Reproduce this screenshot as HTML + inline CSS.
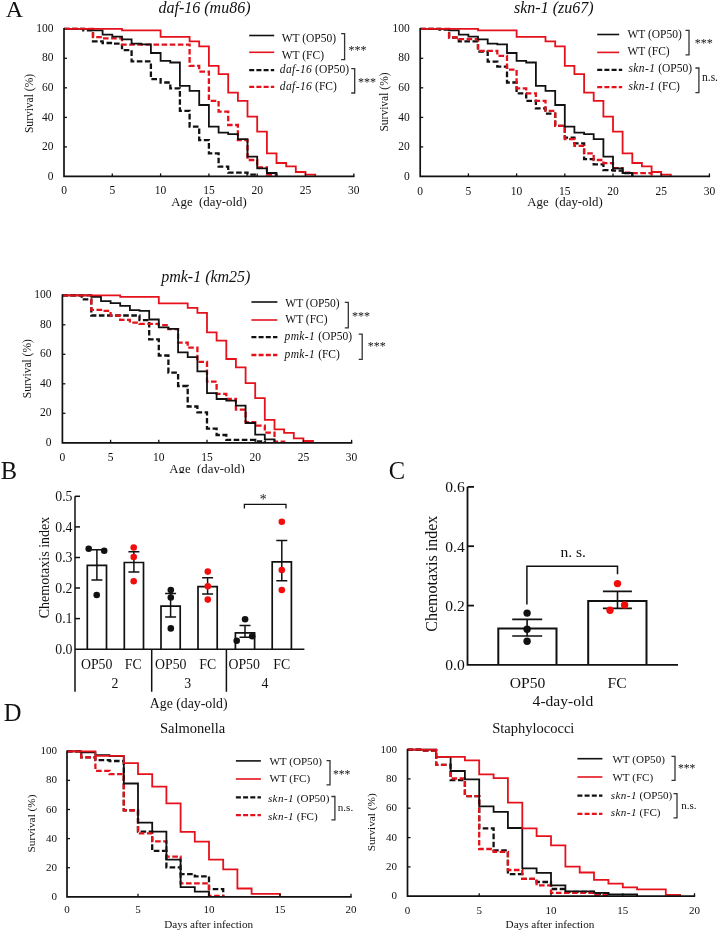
<!DOCTYPE html>
<html><head><meta charset="utf-8"><style>
html,body{margin:0;padding:0;background:#fff;overflow:hidden;}
svg{display:block;will-change:transform;}
text{font-family:"Liberation Serif",serif;fill:#111;}
</style></head><body>
<svg width="720" height="932" viewBox="0 0 720 932">
<text x="5.7" y="16.7" font-size="24" text-anchor="start" >A</text>
<path d="M64.0 28.8H83.3V30.3H93.0V41.3H102.6V43.0H112.3V43.6H122.0V50.1H131.6V61.3H150.9V79.1H160.6V82.5H170.3V88.3H179.9V110.9H189.6V126.7H199.2V140.1H208.9V153.4H218.6V166.7H228.2V172.6H247.5V174.6H257.2V176.4" fill="none" stroke="#111111" stroke-width="2.3" stroke-dasharray="5.6 2.5" stroke-linejoin="miter" stroke-linecap="butt"/>
<path d="M64.0 28.8H93.0V37.1H102.6V38.4H122.0V44.6H189.6V65.8H199.2V71.6H208.9V100.8H218.6V111.6H228.2V125.0H237.9V140.1H247.5V160.0H257.2V167.5H266.9V174.6H276.5V176.4" fill="none" stroke="#e5121c" stroke-width="2.3" stroke-dasharray="5.6 2.5" stroke-linejoin="miter" stroke-linecap="butt"/>
<path d="M64.0 28.8H93.0V30.3H102.6V34.7H112.3V36.6H122.0V39.4H131.6V43.6H141.3V44.3H150.9V53.0H160.6V60.8H170.3V62.5H179.9V85.9H189.6V90.8H199.2V105.0H208.9V126.7H218.6V132.6H228.2V134.2H237.9V139.2H247.5V156.6H257.2V168.3H266.9V173.0H276.5V176.4" fill="none" stroke="#111111" stroke-width="1.8" stroke-linejoin="miter" stroke-linecap="butt"/>
<path d="M64.0 28.8H122.0V30.3H160.6V36.9H189.6V41.3H199.2V46.4H208.9V65.8H218.6V74.1H228.2V92.6H237.9V100.8H247.5V116.6H257.2V131.7H266.9V153.4H276.5V163.0H286.2V166.4H295.8V172.0H305.5V174.6H315.2V176.4" fill="none" stroke="#e5121c" stroke-width="1.8" stroke-linejoin="miter" stroke-linecap="butt"/>
<path d="M64.0 28.1V176.4H354.5" fill="none" stroke="#111111" stroke-width="1.7" />
<text x="53.5" y="179.5" font-size="11.5" text-anchor="end" >0</text>
<path d="M64.0 146.9h3" fill="none" stroke="#111111" stroke-width="1.3" />
<text x="53.5" y="150.0" font-size="11.5" text-anchor="end" >20</text>
<path d="M64.0 117.4h3" fill="none" stroke="#111111" stroke-width="1.3" />
<text x="53.5" y="120.5" font-size="11.5" text-anchor="end" >40</text>
<path d="M64.0 87.8h3" fill="none" stroke="#111111" stroke-width="1.3" />
<text x="53.5" y="90.9" font-size="11.5" text-anchor="end" >60</text>
<path d="M64.0 58.3h3" fill="none" stroke="#111111" stroke-width="1.3" />
<text x="53.5" y="61.4" font-size="11.5" text-anchor="end" >80</text>
<text x="53.5" y="31.9" font-size="11.5" text-anchor="end" >100</text>
<text x="64.0" y="194.3" font-size="11.5" text-anchor="middle" >0</text>
<path d="M112.3 176.4v-3" fill="none" stroke="#111111" stroke-width="1.3" />
<text x="112.3" y="194.3" font-size="11.5" text-anchor="middle" >5</text>
<path d="M160.6 176.4v-3" fill="none" stroke="#111111" stroke-width="1.3" />
<text x="160.6" y="194.3" font-size="11.5" text-anchor="middle" >10</text>
<path d="M208.9 176.4v-3" fill="none" stroke="#111111" stroke-width="1.3" />
<text x="208.9" y="194.3" font-size="11.5" text-anchor="middle" >15</text>
<path d="M257.2 176.4v-3" fill="none" stroke="#111111" stroke-width="1.3" />
<text x="257.2" y="194.3" font-size="11.5" text-anchor="middle" >20</text>
<path d="M305.5 176.4v-3" fill="none" stroke="#111111" stroke-width="1.3" />
<text x="305.5" y="194.3" font-size="11.5" text-anchor="middle" >25</text>
<path d="M353.8 176.4v-3" fill="none" stroke="#111111" stroke-width="1.3" />
<text x="353.8" y="194.3" font-size="11.5" text-anchor="middle" >30</text>
<text x="204.5" y="13.0" font-size="16" text-anchor="middle" font-style="italic" >daf-16 (mu86)</text>
<text x="0.0" y="0.0" font-size="11.5" text-anchor="middle" transform="translate(32.5 103.5) rotate(-90)">Survival (%)</text>
<text x="209.0" y="206.4" font-size="12.8" text-anchor="middle" >Age&#160; (day-old)</text>
<path d="M249.2 35.5h25" fill="none" stroke="#111111" stroke-width="1.6" />
<text x="281.7" y="42.1" font-size="11.5" text-anchor="start" >WT (OP50)</text>
<path d="M249.2 52.3h25" fill="none" stroke="#e5121c" stroke-width="1.6" />
<text x="281.7" y="58.7" font-size="11.5" text-anchor="start" >WT (FC)</text>
<path d="M249.2 70.1h25" fill="none" stroke="#111111" stroke-width="2.3" stroke-dasharray="5 2.2" />
<text x="279.8" y="73.3" font-size="11.5" text-anchor="start" ><tspan font-style="italic" letter-spacing="0.4">daf-16</tspan> (OP50)</text>
<path d="M249.2 86.8h25" fill="none" stroke="#e5121c" stroke-width="2.3" stroke-dasharray="5 2.2" />
<text x="279.8" y="90.2" font-size="11.5" text-anchor="start" ><tspan font-style="italic" letter-spacing="0.4">daf-16</tspan> (FC)</text>
<path d="M341.1 33.7H344.6V59.6H341.1" fill="none" stroke="#333" stroke-width="1.3" />
<text x="348.5" y="53.7" font-size="12.075000000000001" text-anchor="start" fill="#2a2a2a" >***</text>
<path d="M351.2 68.7H354.7V93.0H351.2" fill="none" stroke="#333" stroke-width="1.3" />
<text x="358.0" y="85.9" font-size="12.075000000000001" text-anchor="start" fill="#2a2a2a" >***</text>
<path d="M420.2 28.8H439.5V29.7H449.1V37.5H458.8V41.3H478.0V51.7H487.7V61.7H497.3V66.7H507.0V82.5H516.6V93.3H526.2V100.8H535.9V108.4H545.5V113.7H555.2V125.8H564.8V137.6H574.4V143.3H584.1V159.1H593.7V164.4H603.4V170.1H613.0V170.6H622.6V173.2H632.3V176.4" fill="none" stroke="#111111" stroke-width="2.3" stroke-dasharray="5.6 2.5" stroke-linejoin="miter" stroke-linecap="butt"/>
<path d="M420.2 28.8H449.1V37.5H458.8V39.1H478.0V50.8H497.3V55.8H507.0V69.7H516.6V88.3H526.2V93.3H535.9V100.8H545.5V110.9H555.2V125.8H564.8V139.2H574.4V145.8H584.1V153.4H593.7V160.0H603.4V163.1H613.0V168.1H622.6V172.6H632.3V173.2H651.6V176.4" fill="none" stroke="#e5121c" stroke-width="2.3" stroke-dasharray="5.6 2.5" stroke-linejoin="miter" stroke-linecap="butt"/>
<path d="M420.2 28.8H449.1V30.3H458.8V34.7H468.4V36.6H478.0V39.4H487.7V43.6H497.3V44.3H507.0V53.0H516.6V60.8H526.2V62.5H535.9V85.9H545.5V90.8H555.2V105.0H564.8V126.7H574.4V132.6H584.1V134.2H593.7V139.2H603.4V156.6H613.0V168.3H622.6V173.0H632.3V176.4" fill="none" stroke="#111111" stroke-width="1.8" stroke-linejoin="miter" stroke-linecap="butt"/>
<path d="M420.2 28.8H478.0V30.3H516.6V36.9H545.5V41.3H555.2V46.4H564.8V65.8H574.4V74.1H584.1V92.6H593.7V100.8H603.4V116.6H613.0V131.7H622.6V153.4H632.3V163.0H641.9V166.4H651.6V172.0H661.2V174.6H670.8V176.4" fill="none" stroke="#e5121c" stroke-width="1.8" stroke-linejoin="miter" stroke-linecap="butt"/>
<path d="M420.2 28.1V176.4H710.1" fill="none" stroke="#111111" stroke-width="1.7" />
<text x="409.7" y="179.5" font-size="11.5" text-anchor="end" >0</text>
<path d="M420.2 146.9h3" fill="none" stroke="#111111" stroke-width="1.3" />
<text x="409.7" y="150.0" font-size="11.5" text-anchor="end" >20</text>
<path d="M420.2 117.4h3" fill="none" stroke="#111111" stroke-width="1.3" />
<text x="409.7" y="120.5" font-size="11.5" text-anchor="end" >40</text>
<path d="M420.2 87.8h3" fill="none" stroke="#111111" stroke-width="1.3" />
<text x="409.7" y="90.9" font-size="11.5" text-anchor="end" >60</text>
<path d="M420.2 58.3h3" fill="none" stroke="#111111" stroke-width="1.3" />
<text x="409.7" y="61.4" font-size="11.5" text-anchor="end" >80</text>
<text x="409.7" y="31.9" font-size="11.5" text-anchor="end" >100</text>
<text x="420.2" y="194.9" font-size="11.5" text-anchor="middle" >0</text>
<path d="M468.4 176.4v-3" fill="none" stroke="#111111" stroke-width="1.3" />
<text x="468.4" y="194.9" font-size="11.5" text-anchor="middle" >5</text>
<path d="M516.6 176.4v-3" fill="none" stroke="#111111" stroke-width="1.3" />
<text x="516.6" y="194.9" font-size="11.5" text-anchor="middle" >10</text>
<path d="M564.8 176.4v-3" fill="none" stroke="#111111" stroke-width="1.3" />
<text x="564.8" y="194.9" font-size="11.5" text-anchor="middle" >15</text>
<path d="M613.0 176.4v-3" fill="none" stroke="#111111" stroke-width="1.3" />
<text x="613.0" y="194.9" font-size="11.5" text-anchor="middle" >20</text>
<path d="M661.2 176.4v-3" fill="none" stroke="#111111" stroke-width="1.3" />
<text x="661.2" y="194.9" font-size="11.5" text-anchor="middle" >25</text>
<path d="M709.4 176.4v-3" fill="none" stroke="#111111" stroke-width="1.3" />
<text x="709.4" y="194.9" font-size="11.5" text-anchor="middle" >30</text>
<text x="553.8" y="13.0" font-size="16" text-anchor="middle" font-style="italic" >skn-1 (zu67)</text>
<text x="0.0" y="0.0" font-size="11.5" text-anchor="middle" transform="translate(387.5 102) rotate(-90)">Survival (%)</text>
<text x="565.0" y="206.4" font-size="12.8" text-anchor="middle" >Age&#160; (day-old)</text>
<path d="M597.2 34.5h22" fill="none" stroke="#111111" stroke-width="1.6" />
<text x="627.4" y="37.8" font-size="11.5" text-anchor="start" >WT (OP50)</text>
<path d="M597.2 52.4h22" fill="none" stroke="#e5121c" stroke-width="1.6" />
<text x="627.4" y="55.1" font-size="11.5" text-anchor="start" >WT (FC)</text>
<path d="M597.2 69.9h25" fill="none" stroke="#111111" stroke-width="2.3" stroke-dasharray="5 2.2" />
<text x="628.4" y="72.1" font-size="11.5" text-anchor="start" ><tspan font-style="italic" letter-spacing="0.4">skn-1</tspan> (OP50)</text>
<path d="M597.2 87.2h25" fill="none" stroke="#e5121c" stroke-width="2.3" stroke-dasharray="5 2.2" />
<text x="628.4" y="89.6" font-size="11.5" text-anchor="start" ><tspan font-style="italic" letter-spacing="0.4">skn-1</tspan> (FC)</text>
<path d="M685.5 30.4H689.0V54.8H685.5" fill="none" stroke="#333" stroke-width="1.3" />
<text x="694.7" y="47.1" font-size="12.075000000000001" text-anchor="start" fill="#2a2a2a" >***</text>
<path d="M695.4 68.0H698.9V92.7H695.4" fill="none" stroke="#333" stroke-width="1.3" />
<text x="702.0" y="81.3" font-size="11.5" text-anchor="start" fill="#333" >n.s.</text>
<path d="M62.4 295.3H81.7V299.3H91.3V315.5H139.5V320.1H149.2V339.3H158.8V355.5H168.4V372.7H178.1V386.0H187.7V406.5H197.4V412.3H207.0V428.6H216.6V435.0H226.3V439.9H255.2V441.3H264.8V442.8" fill="none" stroke="#111111" stroke-width="2.3" stroke-dasharray="5.6 2.5" stroke-linejoin="miter" stroke-linecap="butt"/>
<path d="M62.4 295.3H91.3V309.8H101.0V310.9H110.6V315.7H120.2V319.8H129.9V322.6H139.5V323.8H158.8V325.1H168.4V329.2H178.1V342.6H187.7V347.7H197.4V361.8H207.0V381.6H216.6V393.8H226.3V398.8H235.9V409.6H245.6V422.2H255.2V425.7H264.8V432.6H274.5V441.6H284.1V442.8" fill="none" stroke="#e5121c" stroke-width="2.3" stroke-dasharray="5.6 2.5" stroke-linejoin="miter" stroke-linecap="butt"/>
<path d="M62.4 295.3H91.3V296.8H101.0V301.2H110.6V303.1H120.2V305.9H129.9V310.1H139.5V310.8H149.2V319.5H158.8V327.3H168.4V328.9H178.1V352.4H187.7V357.2H197.4V371.4H207.0V393.1H216.6V399.0H226.3V400.6H235.9V405.6H245.6V423.0H255.2V434.7H264.8V439.4H274.5V442.8" fill="none" stroke="#111111" stroke-width="1.8" stroke-linejoin="miter" stroke-linecap="butt"/>
<path d="M62.4 295.3H120.2V296.8H158.8V303.4H187.7V307.8H197.4V312.9H207.0V332.3H216.6V340.6H226.3V359.0H235.9V367.3H245.6V383.1H255.2V398.1H264.8V419.8H274.5V429.4H284.1V432.8H293.8V438.4H303.4V441.0H313.0V442.8" fill="none" stroke="#e5121c" stroke-width="1.8" stroke-linejoin="miter" stroke-linecap="butt"/>
<path d="M62.4 294.6V442.8H352.3" fill="none" stroke="#111111" stroke-width="1.7" />
<text x="51.4" y="445.9" font-size="11.5" text-anchor="end" >0</text>
<path d="M62.4 413.3h3" fill="none" stroke="#111111" stroke-width="1.3" />
<text x="51.4" y="416.4" font-size="11.5" text-anchor="end" >20</text>
<path d="M62.4 383.8h3" fill="none" stroke="#111111" stroke-width="1.3" />
<text x="51.4" y="386.9" font-size="11.5" text-anchor="end" >40</text>
<path d="M62.4 354.3h3" fill="none" stroke="#111111" stroke-width="1.3" />
<text x="51.4" y="357.4" font-size="11.5" text-anchor="end" >60</text>
<path d="M62.4 324.8h3" fill="none" stroke="#111111" stroke-width="1.3" />
<text x="51.4" y="327.9" font-size="11.5" text-anchor="end" >80</text>
<text x="51.4" y="298.4" font-size="11.5" text-anchor="end" >100</text>
<text x="62.4" y="461.1" font-size="11.5" text-anchor="middle" >0</text>
<path d="M110.6 442.8v-3" fill="none" stroke="#111111" stroke-width="1.3" />
<text x="110.6" y="461.1" font-size="11.5" text-anchor="middle" >5</text>
<path d="M158.8 442.8v-3" fill="none" stroke="#111111" stroke-width="1.3" />
<text x="158.8" y="461.1" font-size="11.5" text-anchor="middle" >10</text>
<path d="M207.0 442.8v-3" fill="none" stroke="#111111" stroke-width="1.3" />
<text x="207.0" y="461.1" font-size="11.5" text-anchor="middle" >15</text>
<path d="M255.2 442.8v-3" fill="none" stroke="#111111" stroke-width="1.3" />
<text x="255.2" y="461.1" font-size="11.5" text-anchor="middle" >20</text>
<path d="M303.4 442.8v-3" fill="none" stroke="#111111" stroke-width="1.3" />
<text x="303.4" y="461.1" font-size="11.5" text-anchor="middle" >25</text>
<path d="M351.6 442.8v-3" fill="none" stroke="#111111" stroke-width="1.3" />
<text x="351.6" y="461.1" font-size="11.5" text-anchor="middle" >30</text>
<text x="205.8" y="281.6" font-size="16" text-anchor="middle" font-style="italic" >pmk-1 (km25)</text>
<text x="0.0" y="0.0" font-size="11.5" text-anchor="middle" transform="translate(31 368.7) rotate(-90)">Survival (%)</text>
<path d="M251.4 302.0h26" fill="none" stroke="#111111" stroke-width="1.6" />
<text x="285.3" y="307.1" font-size="11.5" text-anchor="start" >WT (OP50)</text>
<path d="M251.4 320.0h26" fill="none" stroke="#e5121c" stroke-width="1.6" />
<text x="285.3" y="322.6" font-size="11.5" text-anchor="start" >WT (FC)</text>
<path d="M251.4 337.2h26" fill="none" stroke="#111111" stroke-width="2.3" stroke-dasharray="5 2.2" />
<text x="284.5" y="340.1" font-size="11.5" text-anchor="start" ><tspan font-style="italic" letter-spacing="0.4">pmk-1</tspan> (OP50)</text>
<path d="M251.4 355.0h26" fill="none" stroke="#e5121c" stroke-width="2.3" stroke-dasharray="5 2.2" />
<text x="284.5" y="357.9" font-size="11.5" text-anchor="start" ><tspan font-style="italic" letter-spacing="0.4">pmk-1</tspan> (FC)</text>
<path d="M344.8 302.4H348.3V327.8H344.8" fill="none" stroke="#333" stroke-width="1.3" />
<text x="352.0" y="319.7" font-size="12.075000000000001" text-anchor="start" fill="#2a2a2a" >***</text>
<path d="M358.7 334.2H362.2V359.4H358.7" fill="none" stroke="#333" stroke-width="1.3" />
<text x="367.8" y="350.2" font-size="12.075000000000001" text-anchor="start" fill="#2a2a2a" >***</text>
<text x="207.0" y="472.5" font-size="12.8" text-anchor="middle" >Age&#160; (day-old)</text>
<rect x="60" y="473.3" width="300" height="12" fill="#fff"/>
<text x="0.8" y="478.8" font-size="24.5" text-anchor="start" >B</text>
<path d="M75 496.3V691.7" fill="none" stroke="#111111" stroke-width="1.5" />
<path d="M75 649.2H304.4" fill="none" stroke="#111111" stroke-width="1.5" />
<path d="M151.7 649.2V691.7M226.4 649.2V691.7" fill="none" stroke="#111111" stroke-width="1.5" />
<text x="72.5" y="653.9" font-size="13.8" text-anchor="end" >0.0</text>
<path d="M75 618.6h5" fill="none" stroke="#111111" stroke-width="1.5" />
<text x="72.5" y="623.3" font-size="13.8" text-anchor="end" >0.1</text>
<path d="M75 588.0h5" fill="none" stroke="#111111" stroke-width="1.5" />
<text x="72.5" y="592.7" font-size="13.8" text-anchor="end" >0.2</text>
<path d="M75 557.5h5" fill="none" stroke="#111111" stroke-width="1.5" />
<text x="72.5" y="562.2" font-size="13.8" text-anchor="end" >0.3</text>
<path d="M75 526.9h5" fill="none" stroke="#111111" stroke-width="1.5" />
<text x="72.5" y="531.6" font-size="13.8" text-anchor="end" >0.4</text>
<path d="M75 496.3h5" fill="none" stroke="#111111" stroke-width="1.5" />
<text x="72.5" y="501.0" font-size="13.8" text-anchor="end" >0.5</text>
<text x="0.0" y="0.0" font-size="14" text-anchor="middle" transform="translate(49 567.5) rotate(-90)">Chemotaxis index</text>
<path d="M87.3 649.2V565.3H106.5V649.2" fill="none" stroke="#111111" stroke-width="1.7" />
<path d="M96.9 549.7V580.0M91.4 549.7h11M91.4 580.0h11" fill="none" stroke="#111111" stroke-width="1.5" />
<circle cx="88.7" cy="548.7" r="3.3" fill="#111111"/>
<circle cx="104.2" cy="550.8" r="3.3" fill="#111111"/>
<circle cx="96.7" cy="595.0" r="3.3" fill="#111111"/>
<path d="M124.3 649.2V562.5H143.5V649.2" fill="none" stroke="#111111" stroke-width="1.7" />
<path d="M133.9 551.7V572.0M128.4 551.7h11M128.4 572.0h11" fill="none" stroke="#111111" stroke-width="1.5" />
<circle cx="133.7" cy="547.5" r="3.3" fill="#f20d0d"/>
<circle cx="133.7" cy="557.0" r="3.3" fill="#f20d0d"/>
<circle cx="133.7" cy="581.3" r="3.3" fill="#f20d0d"/>
<path d="M161.0 649.2V606.2H180.2V649.2" fill="none" stroke="#111111" stroke-width="1.7" />
<path d="M170.6 593.5V617.0M165.1 593.5h11M165.1 617.0h11" fill="none" stroke="#111111" stroke-width="1.5" />
<circle cx="170.8" cy="590.0" r="3.3" fill="#111111"/>
<circle cx="170.8" cy="597.5" r="3.3" fill="#111111"/>
<circle cx="170.8" cy="628.4" r="3.3" fill="#111111"/>
<path d="M198.0 649.2V586.7H217.2V649.2" fill="none" stroke="#111111" stroke-width="1.7" />
<path d="M207.6 577.8V594.0M202.1 577.8h11M202.1 594.0h11" fill="none" stroke="#111111" stroke-width="1.5" />
<circle cx="207.8" cy="571.6" r="3.3" fill="#f20d0d"/>
<circle cx="207.8" cy="586.2" r="3.3" fill="#f20d0d"/>
<circle cx="207.8" cy="599.6" r="3.3" fill="#f20d0d"/>
<path d="M235.4 649.2V632.9H254.6V649.2" fill="none" stroke="#111111" stroke-width="1.7" />
<path d="M245.0 625.6V637.3M239.5 625.6h11M239.5 637.3h11" fill="none" stroke="#111111" stroke-width="1.5" />
<circle cx="245.1" cy="619.3" r="3.3" fill="#111111"/>
<circle cx="236.7" cy="640.7" r="3.3" fill="#111111"/>
<circle cx="252.2" cy="636.2" r="3.3" fill="#111111"/>
<path d="M272.2 649.2V561.8H291.4V649.2" fill="none" stroke="#111111" stroke-width="1.7" />
<path d="M281.8 540.4V580.7M276.3 540.4h11M276.3 580.7h11" fill="none" stroke="#111111" stroke-width="1.5" />
<circle cx="281.8" cy="521.8" r="3.3" fill="#f20d0d"/>
<circle cx="281.8" cy="570.0" r="3.3" fill="#f20d0d"/>
<circle cx="281.8" cy="590.0" r="3.3" fill="#f20d0d"/>
<text x="96.7" y="669.3" font-size="13.8" text-anchor="middle" >OP50</text>
<text x="133.3" y="669.3" font-size="13.8" text-anchor="middle" >FC</text>
<text x="170.8" y="669.3" font-size="13.8" text-anchor="middle" >OP50</text>
<text x="207.7" y="669.3" font-size="13.8" text-anchor="middle" >FC</text>
<text x="244.2" y="669.3" font-size="13.8" text-anchor="middle" >OP50</text>
<text x="281.7" y="669.3" font-size="13.8" text-anchor="middle" >FC</text>
<text x="115.0" y="688.3" font-size="13.8" text-anchor="middle" >2</text>
<text x="187.8" y="688.3" font-size="13.8" text-anchor="middle" >3</text>
<text x="265.0" y="688.3" font-size="13.8" text-anchor="middle" >4</text>
<text x="188.7" y="707.7" font-size="13.8" text-anchor="middle" >Age (day-old)</text>
<path d="M244.4 508.4V504.4H286V508.4" fill="none" stroke="#111111" stroke-width="1.3" />
<text x="263.3" y="503.5" font-size="13.8" text-anchor="middle" >*</text>
<text x="388.7" y="478.9" font-size="24.5" text-anchor="start" >C</text>
<path d="M467.5 486.9V664.9H678" fill="none" stroke="#111111" stroke-width="1.8" />
<text x="464.8" y="670.2" font-size="15.6" text-anchor="end" >0.0</text>
<path d="M467.5 605.6h6.5" fill="none" stroke="#111111" stroke-width="1.8" />
<text x="464.8" y="610.9" font-size="15.6" text-anchor="end" >0.2</text>
<path d="M467.5 546.2h6.5" fill="none" stroke="#111111" stroke-width="1.8" />
<text x="464.8" y="551.5" font-size="15.6" text-anchor="end" >0.4</text>
<path d="M467.5 486.9h6.5" fill="none" stroke="#111111" stroke-width="1.8" />
<text x="464.8" y="492.2" font-size="15.6" text-anchor="end" >0.6</text>
<text x="0.0" y="0.0" font-size="16" text-anchor="middle" transform="translate(437.3 573.7) rotate(-90)">Chemotaxis index</text>
<path d="M498.3 664.9V628.4H556.5V664.9" fill="none" stroke="#111111" stroke-width="2" />
<path d="M588.2 664.9V600.9H646.5V664.9" fill="none" stroke="#111111" stroke-width="2" />
<path d="M527.1 619.4V636M512.2 619.4H542.2M512.2 636H542.2" fill="none" stroke="#111111" stroke-width="1.6" />
<path d="M617.5 591.4V608.4M602.9 591.4H631.9M602.9 608.4H631.9" fill="none" stroke="#111111" stroke-width="1.6" />
<circle cx="527.1" cy="613.1" r="3.7" fill="#111111"/>
<circle cx="527.1" cy="629.3" r="3.7" fill="#111111"/>
<circle cx="527.1" cy="641.2" r="3.7" fill="#111111"/>
<circle cx="617.5" cy="583.6" r="3.7" fill="#f20d0d"/>
<circle cx="624.6" cy="604.9" r="3.7" fill="#f20d0d"/>
<circle cx="610.0" cy="610.3" r="3.7" fill="#f20d0d"/>
<path d="M526.9 604.4V566.2H617.5V574.2" fill="none" stroke="#111111" stroke-width="1.5" />
<text x="573.2" y="557.0" font-size="15.6" text-anchor="middle" >n. s.</text>
<text x="527.5" y="687.7" font-size="15.6" text-anchor="middle" >OP50</text>
<text x="617.1" y="687.7" font-size="15.6" text-anchor="middle" >FC</text>
<text x="562.9" y="705.8" font-size="15.6" text-anchor="middle" >4-day-old</text>
<text x="3.8" y="720.8" font-size="24.5" text-anchor="start" >D</text>
<path d="M67.0 751.3H81.2V757.3H95.4V760.2H109.6V761.0H123.8V810.4H138.0V831.6H152.2V850.8H166.4V867.4H180.6V874.2H194.8V876.4H209.0V889.1H223.2V896.8" fill="none" stroke="#111111" stroke-width="2.3" stroke-dasharray="5.6 2.5" stroke-linejoin="miter" stroke-linecap="butt"/>
<path d="M67.0 751.3H81.2V757.3H95.4V770.8H109.6V774.1H123.8V810.4H138.0V833.4H152.2V841.4H166.4V856.6H180.6V883.4H209.0V895.8H223.2V896.8" fill="none" stroke="#e5121c" stroke-width="2.3" stroke-dasharray="5.6 2.5" stroke-linejoin="miter" stroke-linecap="butt"/>
<path d="M67.0 751.3H81.2V752.3H95.4V755.2H109.6V756.2H123.8V783.5H138.0V822.6H152.2V831.6H166.4V859.7H180.6V887.1H194.8V891.7H209.0V896.8" fill="none" stroke="#111111" stroke-width="1.8" stroke-linejoin="miter" stroke-linecap="butt"/>
<path d="M67.0 751.3H95.4V755.8H123.8V763.1H138.0V774.1H152.2V786.7H166.4V803.4H180.6V831.8H194.8V841.7H209.0V859.7H223.2V869.4H237.4V888.5H251.6V893.9H280.0V896.8" fill="none" stroke="#e5121c" stroke-width="1.8" stroke-linejoin="miter" stroke-linecap="butt"/>
<path d="M67.0 750.6V896.8H351.7" fill="none" stroke="#111111" stroke-width="1.7" />
<text x="57.0" y="899.8" font-size="11" text-anchor="end" >0</text>
<path d="M67.0 867.7h3" fill="none" stroke="#111111" stroke-width="1.3" />
<text x="57.0" y="870.7" font-size="11" text-anchor="end" >20</text>
<path d="M67.0 838.6h3" fill="none" stroke="#111111" stroke-width="1.3" />
<text x="57.0" y="841.6" font-size="11" text-anchor="end" >40</text>
<path d="M67.0 809.5h3" fill="none" stroke="#111111" stroke-width="1.3" />
<text x="57.0" y="812.5" font-size="11" text-anchor="end" >60</text>
<path d="M67.0 780.4h3" fill="none" stroke="#111111" stroke-width="1.3" />
<text x="57.0" y="783.4" font-size="11" text-anchor="end" >80</text>
<text x="57.0" y="754.3" font-size="11" text-anchor="end" >100</text>
<text x="67.0" y="913.0" font-size="11" text-anchor="middle" >0</text>
<path d="M138.0 896.8v-3" fill="none" stroke="#111111" stroke-width="1.3" />
<text x="138.0" y="913.0" font-size="11" text-anchor="middle" >5</text>
<path d="M209.0 896.8v-3" fill="none" stroke="#111111" stroke-width="1.3" />
<text x="209.0" y="913.0" font-size="11" text-anchor="middle" >10</text>
<path d="M280.0 896.8v-3" fill="none" stroke="#111111" stroke-width="1.3" />
<text x="280.0" y="913.0" font-size="11" text-anchor="middle" >15</text>
<path d="M351.0 896.8v-3" fill="none" stroke="#111111" stroke-width="1.3" />
<text x="351.0" y="913.0" font-size="11" text-anchor="middle" >20</text>
<text x="192.6" y="733.0" font-size="14.5" text-anchor="middle" >Salmonella</text>
<text x="0.0" y="0.0" font-size="11.3" text-anchor="middle" transform="translate(35.2 823.5) rotate(-90)">Survival (%)</text>
<text x="208.7" y="927.5" font-size="11.2" text-anchor="middle" >Days after infection</text>
<path d="M235.9 760.9h25" fill="none" stroke="#111111" stroke-width="1.6" />
<text x="269.4" y="764.6" font-size="11.1" text-anchor="start" >WT (OP50)</text>
<path d="M235.9 779.0h25" fill="none" stroke="#e5121c" stroke-width="1.6" />
<text x="269.4" y="782.1" font-size="11.1" text-anchor="start" >WT (FC)</text>
<path d="M235.9 797.3h25" fill="none" stroke="#111111" stroke-width="2.3" stroke-dasharray="5 2.2" />
<text x="267.9" y="801.5" font-size="11.1" text-anchor="start" ><tspan font-style="italic" letter-spacing="0.4">skn-1</tspan> (OP50)</text>
<path d="M235.9 815.1h25" fill="none" stroke="#e5121c" stroke-width="2.3" stroke-dasharray="5 2.2" />
<text x="267.9" y="819.8" font-size="11.1" text-anchor="start" ><tspan font-style="italic" letter-spacing="0.4">skn-1</tspan> (FC)</text>
<path d="M326.5 760.6H330.0V784.9H326.5" fill="none" stroke="#333" stroke-width="1.3" />
<text x="332.9" y="777.9" font-size="11.655" text-anchor="start" fill="#2a2a2a" >***</text>
<path d="M331.4 796.5H334.9V819.9H331.4" fill="none" stroke="#333" stroke-width="1.3" />
<text x="337.8" y="811.4" font-size="11.1" text-anchor="start" fill="#333" >n.s.</text>
<path d="M407.5 749.6H421.9V750.5H436.2V764.8H450.6V780.2H464.9V796.1H479.2V828.3H493.6V850.3H507.9V874.1H522.3V878.8H536.6V882.0H551.0V889.0H565.4V891.9H594.0V893.9H608.4V896.2" fill="none" stroke="#111111" stroke-width="2.3" stroke-dasharray="5.6 2.5" stroke-linejoin="miter" stroke-linecap="butt"/>
<path d="M407.5 749.6H421.9V750.5H436.2V764.8H450.6V778.5H464.9V796.1H479.2V849.0H493.6V851.9H507.9V870.0H522.3V878.8H536.6V885.4H551.0V892.8H594.0V894.9H608.4V896.2" fill="none" stroke="#e5121c" stroke-width="2.3" stroke-dasharray="5.6 2.5" stroke-linejoin="miter" stroke-linecap="butt"/>
<path d="M407.5 749.6H436.2V756.8H450.6V771.0H464.9V779.4H479.2V806.3H493.6V811.8H507.9V828.0H522.3V868.3H536.6V872.9H551.0V885.4H565.4V891.4H594.0V892.8H608.4V894.4H637.1V896.2" fill="none" stroke="#111111" stroke-width="1.8" stroke-linejoin="miter" stroke-linecap="butt"/>
<path d="M407.5 749.6H436.2V756.8H464.9V760.4H479.2V774.4H493.6V778.2H507.9V802.7H522.3V828.3H536.6V836.1H551.0V845.3H565.4V866.6H579.7V872.5H594.0V879.8H608.4V883.6H622.8V887.4H637.1V889.3H665.8V894.9H680.1V896.2" fill="none" stroke="#e5121c" stroke-width="1.8" stroke-linejoin="miter" stroke-linecap="butt"/>
<path d="M407.5 748.9V896.2H695.2" fill="none" stroke="#111111" stroke-width="1.7" />
<text x="397.0" y="899.2" font-size="11" text-anchor="end" >0</text>
<path d="M407.5 866.9h3" fill="none" stroke="#111111" stroke-width="1.3" />
<text x="397.0" y="869.9" font-size="11" text-anchor="end" >20</text>
<path d="M407.5 837.6h3" fill="none" stroke="#111111" stroke-width="1.3" />
<text x="397.0" y="840.5" font-size="11" text-anchor="end" >40</text>
<path d="M407.5 808.2h3" fill="none" stroke="#111111" stroke-width="1.3" />
<text x="397.0" y="811.2" font-size="11" text-anchor="end" >60</text>
<path d="M407.5 778.9h3" fill="none" stroke="#111111" stroke-width="1.3" />
<text x="397.0" y="781.9" font-size="11" text-anchor="end" >80</text>
<text x="397.0" y="752.6" font-size="11" text-anchor="end" >100</text>
<text x="407.5" y="913.5" font-size="11" text-anchor="middle" >0</text>
<path d="M479.2 896.2v-3" fill="none" stroke="#111111" stroke-width="1.3" />
<text x="479.2" y="913.5" font-size="11" text-anchor="middle" >5</text>
<path d="M551.0 896.2v-3" fill="none" stroke="#111111" stroke-width="1.3" />
<text x="551.0" y="913.5" font-size="11" text-anchor="middle" >10</text>
<path d="M622.8 896.2v-3" fill="none" stroke="#111111" stroke-width="1.3" />
<text x="622.8" y="913.5" font-size="11" text-anchor="middle" >15</text>
<path d="M694.5 896.2v-3" fill="none" stroke="#111111" stroke-width="1.3" />
<text x="694.5" y="913.5" font-size="11" text-anchor="middle" >20</text>
<text x="533.3" y="733.0" font-size="14.5" text-anchor="middle" >Staphylococci</text>
<text x="0.0" y="0.0" font-size="11.3" text-anchor="middle" transform="translate(375.2 822.3) rotate(-90)">Survival (%)</text>
<text x="550.0" y="927.5" font-size="11.2" text-anchor="middle" >Days after infection</text>
<path d="M577.4 758.7h25" fill="none" stroke="#111111" stroke-width="1.6" />
<text x="612.4" y="762.6" font-size="11.1" text-anchor="start" >WT (OP50)</text>
<path d="M577.4 777.0h25" fill="none" stroke="#e5121c" stroke-width="1.6" />
<text x="612.4" y="780.6" font-size="11.1" text-anchor="start" >WT (FC)</text>
<path d="M577.4 795.6h25" fill="none" stroke="#111111" stroke-width="2.3" stroke-dasharray="5 2.2" />
<text x="610.8" y="798.5" font-size="11.1" text-anchor="start" ><tspan font-style="italic" letter-spacing="0.4">skn-1</tspan> (OP50)</text>
<path d="M577.4 813.9h25" fill="none" stroke="#e5121c" stroke-width="2.3" stroke-dasharray="5 2.2" />
<text x="610.8" y="816.0" font-size="11.1" text-anchor="start" ><tspan font-style="italic" letter-spacing="0.4">skn-1</tspan> (FC)</text>
<path d="M671.5 756.3H675.0V780.4H671.5" fill="none" stroke="#333" stroke-width="1.3" />
<text x="677.9" y="772.1" font-size="11.655" text-anchor="start" fill="#2a2a2a" >***</text>
<path d="M673.5 793.6H677.0V817.9H673.5" fill="none" stroke="#333" stroke-width="1.3" />
<text x="681.2" y="809.1" font-size="11.1" text-anchor="start" fill="#333" >n.s.</text>
</svg></body></html>
